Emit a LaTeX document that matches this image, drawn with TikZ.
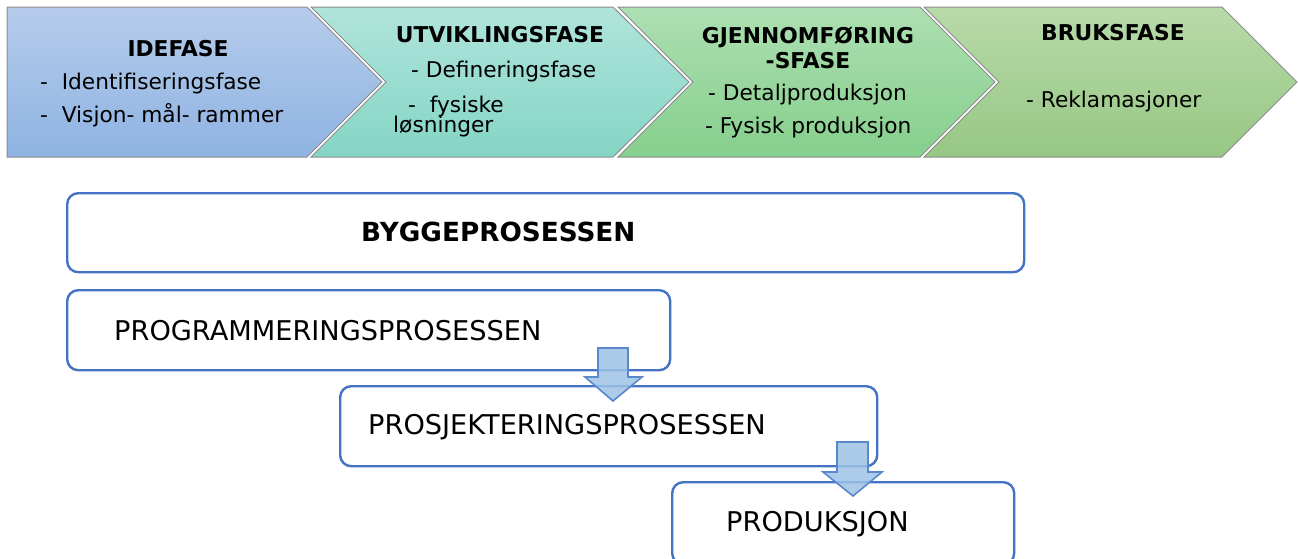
\documentclass[tikz,border=0pt]{standalone}
\usepackage{fontspec}
\setmainfont{DejaVu Sans}
\definecolor{boxblue}{HTML}{4472C4}
\definecolor{arrfill}{HTML}{9DC3E6}
\definecolor{arrline}{HTML}{5B87CC}
\definecolor{cAt}{HTML}{B6CCEB}\definecolor{cAb}{HTML}{8EB3E2}
\definecolor{cBt}{HTML}{B0E4DB}\definecolor{cBb}{HTML}{84D5C5}
\definecolor{cCt}{HTML}{ADDFB2}\definecolor{cCb}{HTML}{86CF8D}
\definecolor{cDt}{HTML}{B8DAA9}\definecolor{cDb}{HTML}{97C784}
\begin{document}
\begin{tikzpicture}[x=1pt,y=-1pt,
  chev/.style={draw=black!45, line width=1pt},
  ctext/.style={anchor=base west, inner sep=0pt, font=\fontsize{21.7}{25}\selectfont},
  ctitle/.style={anchor=base, inner sep=0pt, font=\fontsize{21.8}{25}\selectfont\bfseries},
  pbox/.style={draw=boxblue, line width=2.4pt, rounded corners=11pt, fill=white, anchor=north west, inner sep=0pt},
  ptext/.style={anchor=base west, inner sep=0pt, font=\fontsize{27.2}{30}\selectfont},
  blockarrow/.style={fill=arrfill, fill opacity=0.85, draw=arrline, line width=1.6pt, line join=miter}]
\useasboundingbox (0,0) rectangle (1298,558);
\clip (0,0) rectangle (1298,558);
% chevrons
\path[chev, top color=cAt, bottom color=cAb] (7,7) -- (307,7) -- (382,82) -- (307,157) -- (7,157) -- cycle;
\path[chev, top color=cBt, bottom color=cBb] (311,7) -- (613,7) -- (689,82) -- (613,157) -- (311,157) -- (386,82) -- cycle;
\path[chev, top color=cCt, bottom color=cCb] (618,7) -- (920,7) -- (995,82) -- (920,157) -- (618,157) -- (693,82) -- cycle;
\path[chev, top color=cDt, bottom color=cDb] (924,7) -- (1222,7) -- (1297,82) -- (1222,157) -- (924,157) -- (999,82) -- cycle;
% chevron texts
\node[ctitle] (t1) at (178,56) {IDEFASE};
\node[ctext] (t1a) at (40,89) {-\ \ Identifiseringsfase};
\node[ctext] (t1b) at (40,122) {-\ \ Visjon- mål- rammer};
\node[ctitle] (t2) at (500,42) {UTVIKLINGSFASE};
\node[ctext] (t2a) at (411,77) {- Defineringsfase};
\node[ctext] (t2b) at (408,112) {-\ \ fysiske};
\node[ctext] (t2c) at (393,132) {løsninger};
\node[ctitle] (t3) at (808,43) {GJENNOMFØRING};
\node[ctitle] (t3b) at (808,68) {-SFASE};
\node[ctext] (t3c) at (708,100) {- Detaljproduksjon};
\node[ctext] (t3d) at (705,133) {- Fysisk produksjon};
\node[ctitle] (t4) at (1113,40) {BRUKSFASE};
\node[ctext] (t4a) at (1026,107) {- Reklamasjoner};
% process boxes
\node[pbox, minimum width=957pt, minimum height=79pt] (bygg) at (66,192) {};
\node[anchor=base west, inner sep=0pt, font=\fontsize{26.3}{30}\selectfont\bfseries] (byggt) at (361,241) {BYGGEPROSESSEN};
\node[pbox, minimum width=603pt, minimum height=80pt] (prog) at (66,289) {};
\node[ptext] (progt) at (114,340) {PROGRAMMERINGSPROSESSEN};
\node[pbox, minimum width=537pt, minimum height=80pt] (pros) at (339,385) {};
\node[ptext] (prost) at (368,434) {PROSJEKTERINGSPROSESSEN};
\path[blockarrow] (598,348) -- (628,348) -- (628,377) -- (642,377) -- (613,401) -- (585,377) -- (598,377) -- cycle;
\node[pbox, minimum width=342pt, minimum height=82pt] (prod) at (671,481) {};
\node[ptext] (prodt) at (726,531) {PRODUKSJON};
\path[blockarrow] (837,442) -- (868,442) -- (868,472) -- (882,472) -- (853,496) -- (823,472) -- (837,472) -- cycle;
\end{tikzpicture}
\end{document}
